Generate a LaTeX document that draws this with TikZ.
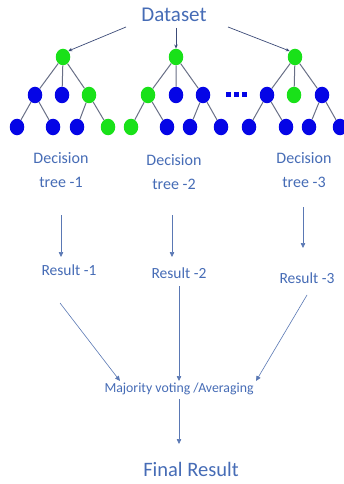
\documentclass[tikz,border=0pt]{standalone}
\usepackage{fontspec}
\setmainfont{Carlito}
\usetikzlibrary{arrows.meta,shapes.geometric}
\definecolor{txtc}{RGB}{70,108,182}
\definecolor{arrc}{RGB}{90,120,180}
\definecolor{toparr}{RGB}{60,75,120}
\definecolor{gnode}{RGB}{25,225,25}
\definecolor{bnode}{RGB}{5,5,230}
\definecolor{edgec}{RGB}{105,112,135}
\tikzset{
  gn/.style={ellipse,fill=gnode,inner sep=0pt,minimum width=14.5pt,minimum height=16.5pt},
  bn/.style={ellipse,fill=bnode,inner sep=0pt,minimum width=14.5pt,minimum height=16.5pt},
  tedge/.style={draw=edgec,line width=1pt},
  lbl/.style={text=txtc,align=center,inner sep=0pt},
  flow/.style={draw=arrc,line width=0.6pt,-{Triangle[length=5pt,width=4.5pt]}},
  topflow/.style={draw=toparr,line width=0.7pt,-{Stealth[length=4pt,width=3.5pt]}},
}
\begin{document}
\begin{tikzpicture}[x=1pt,y=-1pt]
\useasboundingbox (0,0) rectangle (343,484);
\fill[white] (0,0) rectangle (343,484);
% Dataset
\node[lbl,font=\fontsize{21}{24}\selectfont] (ds) at (174,15) {Dataset};
% Tree 1
\node[gn] (a0) at (63,57) {};
\node[bn] (a1) at (35,95) {};
\node[bn] (a2) at (62,95) {};
\node[gn] (a3) at (89,95) {};
\node[bn] (a4) at (17,127) {};
\node[bn] (a5) at (53,127) {};
\node[bn] (a6) at (77,127) {};
\node[gn] (a7) at (108,127) {};
% Tree 2
\node[gn] (b0) at (176,57) {};
\node[gn] (b1) at (148,95) {};
\node[bn] (b2) at (176,95) {};
\node[bn] (b3) at (203,95) {};
\node[gn] (b4) at (131,127) {};
\node[bn] (b5) at (167,127) {};
\node[bn] (b6) at (190,127) {};
\node[bn] (b7) at (221,127) {};
% Tree 3
\node[gn] (c0) at (295,57) {};
\node[bn] (c1) at (267,95) {};
\node[gn] (c2) at (294,95) {};
\node[bn] (c3) at (322,95) {};
\node[bn] (c4) at (249,127) {};
\node[bn] (c5) at (286,127) {};
\node[bn] (c6) at (309,127) {};
\node[bn] (c7) at (340,127) {};
% dots
\foreach \i/\xx in {1/228,2/236,3/244}{
  \node[fill=bnode,inner sep=0pt,minimum width=5pt,minimum height=5pt] (dot\i) at (\xx,95) {};
}
% tree edges
\foreach \t in {a,b,c}{
  \path[tedge] (\t0) -- (\t1) (\t0) -- (\t2) (\t0) -- (\t3)
    (\t1) -- (\t4) (\t1) -- (\t5) (\t3) -- (\t6) (\t3) -- (\t7);
}
% top arrows
\coordinate (dsl) at (126,27);
\coordinate (dsm) at (176,28);
\coordinate (dsr) at (228,27);
\draw[topflow] (dsl) -- (a0.north east);
\draw[topflow] (dsm) -- (b0.north);
\draw[topflow] (dsr) -- (c0.north west);
% decision labels
\node[lbl,font=\fontsize{16}{24}\selectfont] (d1) at (61,170) {Decision\\tree -1};
\node[lbl,font=\fontsize{16}{24}\selectfont] (d2) at (174,172) {Decision\\tree -2};
\node[lbl,font=\fontsize{16}{24}\selectfont] (d3) at (304,170) {Decision\\tree -3};
% result labels
\node[lbl,font=\fontsize{15.5}{18}\selectfont] (r1) at (69,270) {Result -1};
\node[lbl,font=\fontsize{15.5}{18}\selectfont] (r2) at (179,273) {Result -2};
\node[lbl,font=\fontsize{15.5}{18}\selectfont] (r3) at (307,278) {Result -3};
\coordinate (d1s) at (61,215); \coordinate (r1e) at (61,257);
\coordinate (d2s) at (172,215); \coordinate (r2e) at (172,257);
\coordinate (d3s) at (303,207); \coordinate (r3e) at (303,248);
\draw[flow] (d1s) -- (r1e);
\draw[flow] (d2s) -- (r2e);
\draw[flow] (d3s) -- (r3e);
% majority
\node[lbl,font=\fontsize{13.8}{16}\selectfont] (mv) at (179,389) {Majority voting /Averaging};
\coordinate (r1s) at (60,303); \coordinate (m1e) at (120,381);
\coordinate (r2s) at (179,286); \coordinate (m2e) at (179,381);
\coordinate (r3s) at (307,295); \coordinate (m3e) at (256,381);
\draw[flow] (r1s) -- (m1e);
\draw[flow] (r2s) -- (m2e);
\draw[flow] (r3s) -- (m3e);
% final
\node[lbl,font=\fontsize{20.5}{24}\selectfont] (fr) at (191,469) {Final Result};
\coordinate (mvs) at (179,399); \coordinate (fre) at (179,444);
\draw[flow] (mvs) -- (fre);
\end{tikzpicture}
\end{document}
